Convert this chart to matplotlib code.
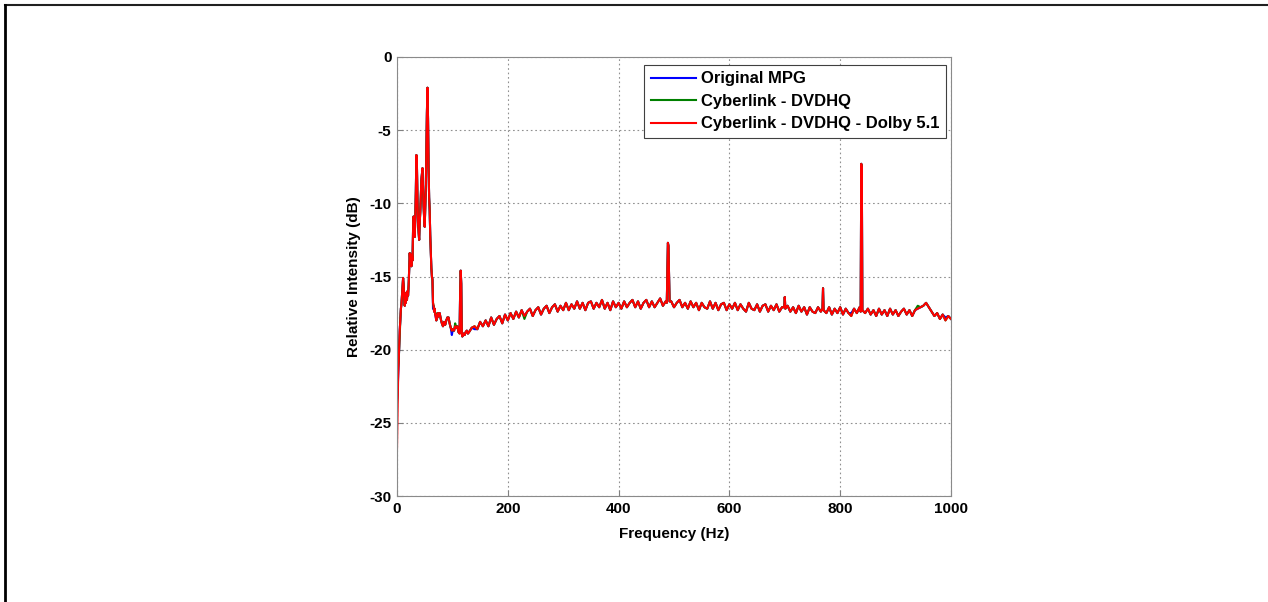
import numpy as np
import matplotlib
matplotlib.use("Agg")
import matplotlib.pyplot as plt
from matplotlib.lines import Line2D

plt.rcParams['font.family'] = ['Liberation Sans', 'DejaVu Sans']

# ---------------- data ----------------
low_freq = [0, 1, 2, 3, 4, 5, 6, 7, 8, 9, 10, 11, 12, 13, 14, 15, 16, 17, 18, 19,
            20, 21, 22, 23, 24, 25, 26, 27, 28, 29, 30, 31, 32, 33, 34, 35, 36, 37, 38, 39,
            40, 41, 42, 43, 44, 45, 46, 47, 48, 49, 50, 51, 52, 53, 54, 55, 56, 57, 58, 59,
            60, 61, 62, 63, 64, 65, 66, 67, 68, 69, 70, 71, 72, 73, 74, 75, 77, 79, 81, 83,
            85, 87, 89, 91, 93, 95, 97, 99, 101, 103, 105, 107, 109, 111, 113, 114, 115, 116,
            117, 118, 120, 122, 124, 126, 128]
low_db = [-26.8, -24.5, -22.0, -20.8, -19.8, -18.6, -18.0, -17.2, -16.9, -16.3,
          -15.8, -15.1, -15.6, -16.5, -17.0, -16.4, -16.8, -16.1, -16.6, -16.0,
          -16.3, -15.6, -14.6, -13.4, -14.1, -13.6, -14.3, -13.5, -13.9, -11.8,
          -10.9, -11.9, -12.3, -11.0, -9.2, -6.7, -7.5, -9.8, -11.4, -12.0,
          -12.5, -11.3, -10.6, -9.5, -8.4, -8.0, -7.6, -8.9, -10.2, -11.0,
          -11.6, -10.4, -9.0, -6.5, -3.8, -2.1, -4.2, -7.5, -9.6, -10.5,
          -12.2, -13.4, -14.4, -15.0, -15.2, -16.8, -17.0, -17.4, -17.2, -17.6,
          -17.8, -18.0, -17.6, -17.8, -17.5, -17.7, -17.5, -17.9, -18.2, -18.4,
          -18.1, -18.3, -18.0, -17.8, -17.8, -18.2, -18.5, -18.7, -18.6, -18.7,
          -18.4, -18.5, -18.4, -18.8, -18.9, -16.0, -14.6, -15.5,
          -18.9, -19.1, -18.9, -19.0, -18.8, -18.7, -18.9]

mid_freq = [130, 135, 140, 145, 150, 155, 160, 165, 170, 175, 180, 185, 190, 195,
            200, 205, 210, 215, 220, 225, 230, 235, 240, 245, 250, 255, 260, 265, 270, 275,
            280, 285, 290, 295, 300, 305, 310, 315, 320, 325, 330, 335, 340, 345, 350, 355,
            360, 365, 370, 375, 380, 385, 390, 395, 400, 405, 410, 415, 420, 425, 430, 435,
            440, 445, 450, 455, 460, 465, 470, 475, 480, 485, 495, 500, 505, 510, 515, 520,
            525, 530, 535, 540, 545, 550, 555, 560, 565, 570, 575, 580, 585, 590, 595, 600,
            605, 610, 615, 620, 625, 630, 635, 640, 645, 650, 655, 660, 665, 670, 675, 680,
            685, 690, 695, 705, 710, 715, 720, 725, 730, 735, 740, 745, 750, 755, 760, 765,
            775, 780, 785, 790, 795, 800, 805, 810, 815, 820, 825, 830, 835, 845, 850, 855,
            860, 865, 870, 875, 880, 885, 890, 895, 900, 905, 910, 915, 920, 925, 930, 935,
            940, 945, 950, 955, 960, 965, 970, 975, 980, 985, 990, 995, 1000]
mid_db = [-18.8, -18.5, -18.4, -18.6, -18.1, -18.4, -18.0, -18.4, -17.8, -18.3, -17.9, -17.7, -18.2, -17.6,
          -18.0, -17.5, -17.9, -17.4, -17.8, -17.3, -17.7, -17.4, -17.2, -17.7, -17.3, -17.1, -17.6, -17.2, -17.0, -17.5,
          -17.1, -16.9, -17.4, -17.0, -17.3, -16.8, -17.3, -16.9, -17.2, -16.7, -17.2, -16.8, -17.3, -16.8, -16.7, -17.2,
          -16.8, -17.1, -16.6, -17.2, -16.8, -17.3, -16.7, -17.1, -16.8, -17.2, -16.7, -17.1, -16.8, -16.6, -17.1, -16.7,
          -17.2, -16.8, -16.6, -17.1, -16.7, -17.1, -16.8, -16.5, -17.0, -16.7, -16.7, -17.1, -16.8, -16.6, -17.1, -16.8,
          -17.2, -16.7, -17.1, -16.8, -17.3, -16.8, -17.1, -17.2, -16.7, -17.2, -16.8, -17.3, -16.9, -16.8, -17.3, -16.9,
          -17.2, -16.8, -17.3, -16.9, -17.2, -17.4, -16.8, -17.2, -17.3, -16.9, -17.4, -17.0, -16.9, -17.4, -17.0, -17.3,
          -16.9, -17.4, -17.1, -17.0, -17.4, -17.1, -17.5, -17.0, -17.4, -17.1, -17.6, -17.1, -17.4, -17.5, -17.1, -17.4,
          -17.5, -17.1, -17.6, -17.2, -17.5, -17.1, -17.6, -17.2, -17.5, -17.7, -17.2, -17.5, -17.1, -17.5, -17.2, -17.6,
          -17.3, -17.7, -17.2, -17.6, -17.3, -17.7, -17.2, -17.6, -17.3, -17.7, -17.4, -17.2, -17.6, -17.3, -17.7, -17.3,
          -17.2, -17.1, -17.0, -16.8, -17.1, -17.4, -17.7, -17.5, -17.9, -17.6, -18.0, -17.7, -17.9]

spike_freq = [487, 489, 490, 492, 699, 700, 701, 768, 769, 770, 837, 838, 839, 840]
spike_db = [-16.8, -12.7, -12.9, -16.7, -17.1, -16.4, -17.2, -17.2, -15.8, -17.3,
            -17.4, -7.3, -7.6, -17.3]

# small deviations of the other two traces where they peek out under the red one
orig_diff = {0: 3.3, 1: 1.5, 65: -0.4, 99: -0.3, 113: 0.2, 140: -0.2, 820: 0.2, 990: 0.2}
dvdhq_diff = {0: 3.2, 1: 1.8, 2: 0.8, 70: 0.3, 105: 0.2, 230: -0.2, 940: 0.2}

series_names = ['Original MPG', 'Cyberlink - DVDHQ', 'Cyberlink - DVDHQ - Dolby 5.1']
series_colors = ['#0000ff', '#008000', '#ff0000']

xticks = [0, 200, 400, 600, 800, 1000]
yticks = [0, -5, -10, -15, -20, -25, -30]

# ---------------- assemble ----------------
freq = np.array(low_freq + mid_freq + spike_freq, dtype=float)
red = np.array(low_db + mid_db + spike_db, dtype=float)
order = np.argsort(freq, kind='stable')
freq = freq[order]
red = red[order]

def with_diff(base, diff):
    out = base.copy()
    for f, d in diff.items():
        out[freq == f] += d
    return out

blue = with_diff(red, orig_diff)
green = with_diff(red, dvdhq_diff)

# ---------------- figure ----------------
fig = plt.figure(figsize=(12.68, 6.02), dpi=100)
ax = fig.add_axes([397 / 1268, 1 - 496 / 602, (951 - 397) / 1268, (496 - 57) / 602])

for y, c, n in zip([blue, green, red], series_colors, series_names):
    ax.plot(freq, y, color=c, lw=1.5, label=n)

ax.set_xlim(0, 1000)
ax.set_ylim(-30, 0)
ax.set_xticks(xticks)
ax.set_yticks(yticks)
ax.set_xticklabels([str(t) for t in xticks], fontsize=11, fontweight='bold')
ax.set_yticklabels([str(t) for t in yticks], fontsize=11, fontweight='bold')
ax.tick_params(direction='in', length=4, color='#808080', pad=4)
ax.grid(True, color='#909090', linestyle=(0, (1.5, 2.5)), lw=0.8)
for s in ax.spines.values():
    s.set_color('#8a8a8a')
    s.set_linewidth(0.8)

ax.set_xlabel('Frequency (Hz)', fontsize=11, fontweight='bold', labelpad=8)
ax.set_ylabel('Relative Intensity (dB)', fontsize=11, fontweight='bold', labelpad=6)

leg = ax.legend(loc='upper right', bbox_to_anchor=(0.9965, 0.99), fancybox=False,
                framealpha=1, edgecolor='#404040', prop={'size': 12, 'weight': 'bold'},
                handlelength=2.7, handletextpad=0.3, borderpad=0.4, labelspacing=0.45,
                borderaxespad=0.2)
leg.get_frame().set_linewidth(0.8)

# figure border (top and left lines)
fig.add_artist(Line2D([5 / 1268, 1], [1 - 5 / 602, 1 - 5 / 602], color='#202020', lw=1.5,
                      transform=fig.transFigure))
fig.add_artist(Line2D([5 / 1268, 5 / 1268], [0, 1 - 5 / 602], color='#000000', lw=2,
                      transform=fig.transFigure))

fig.savefig('out.png', dpi=100)
